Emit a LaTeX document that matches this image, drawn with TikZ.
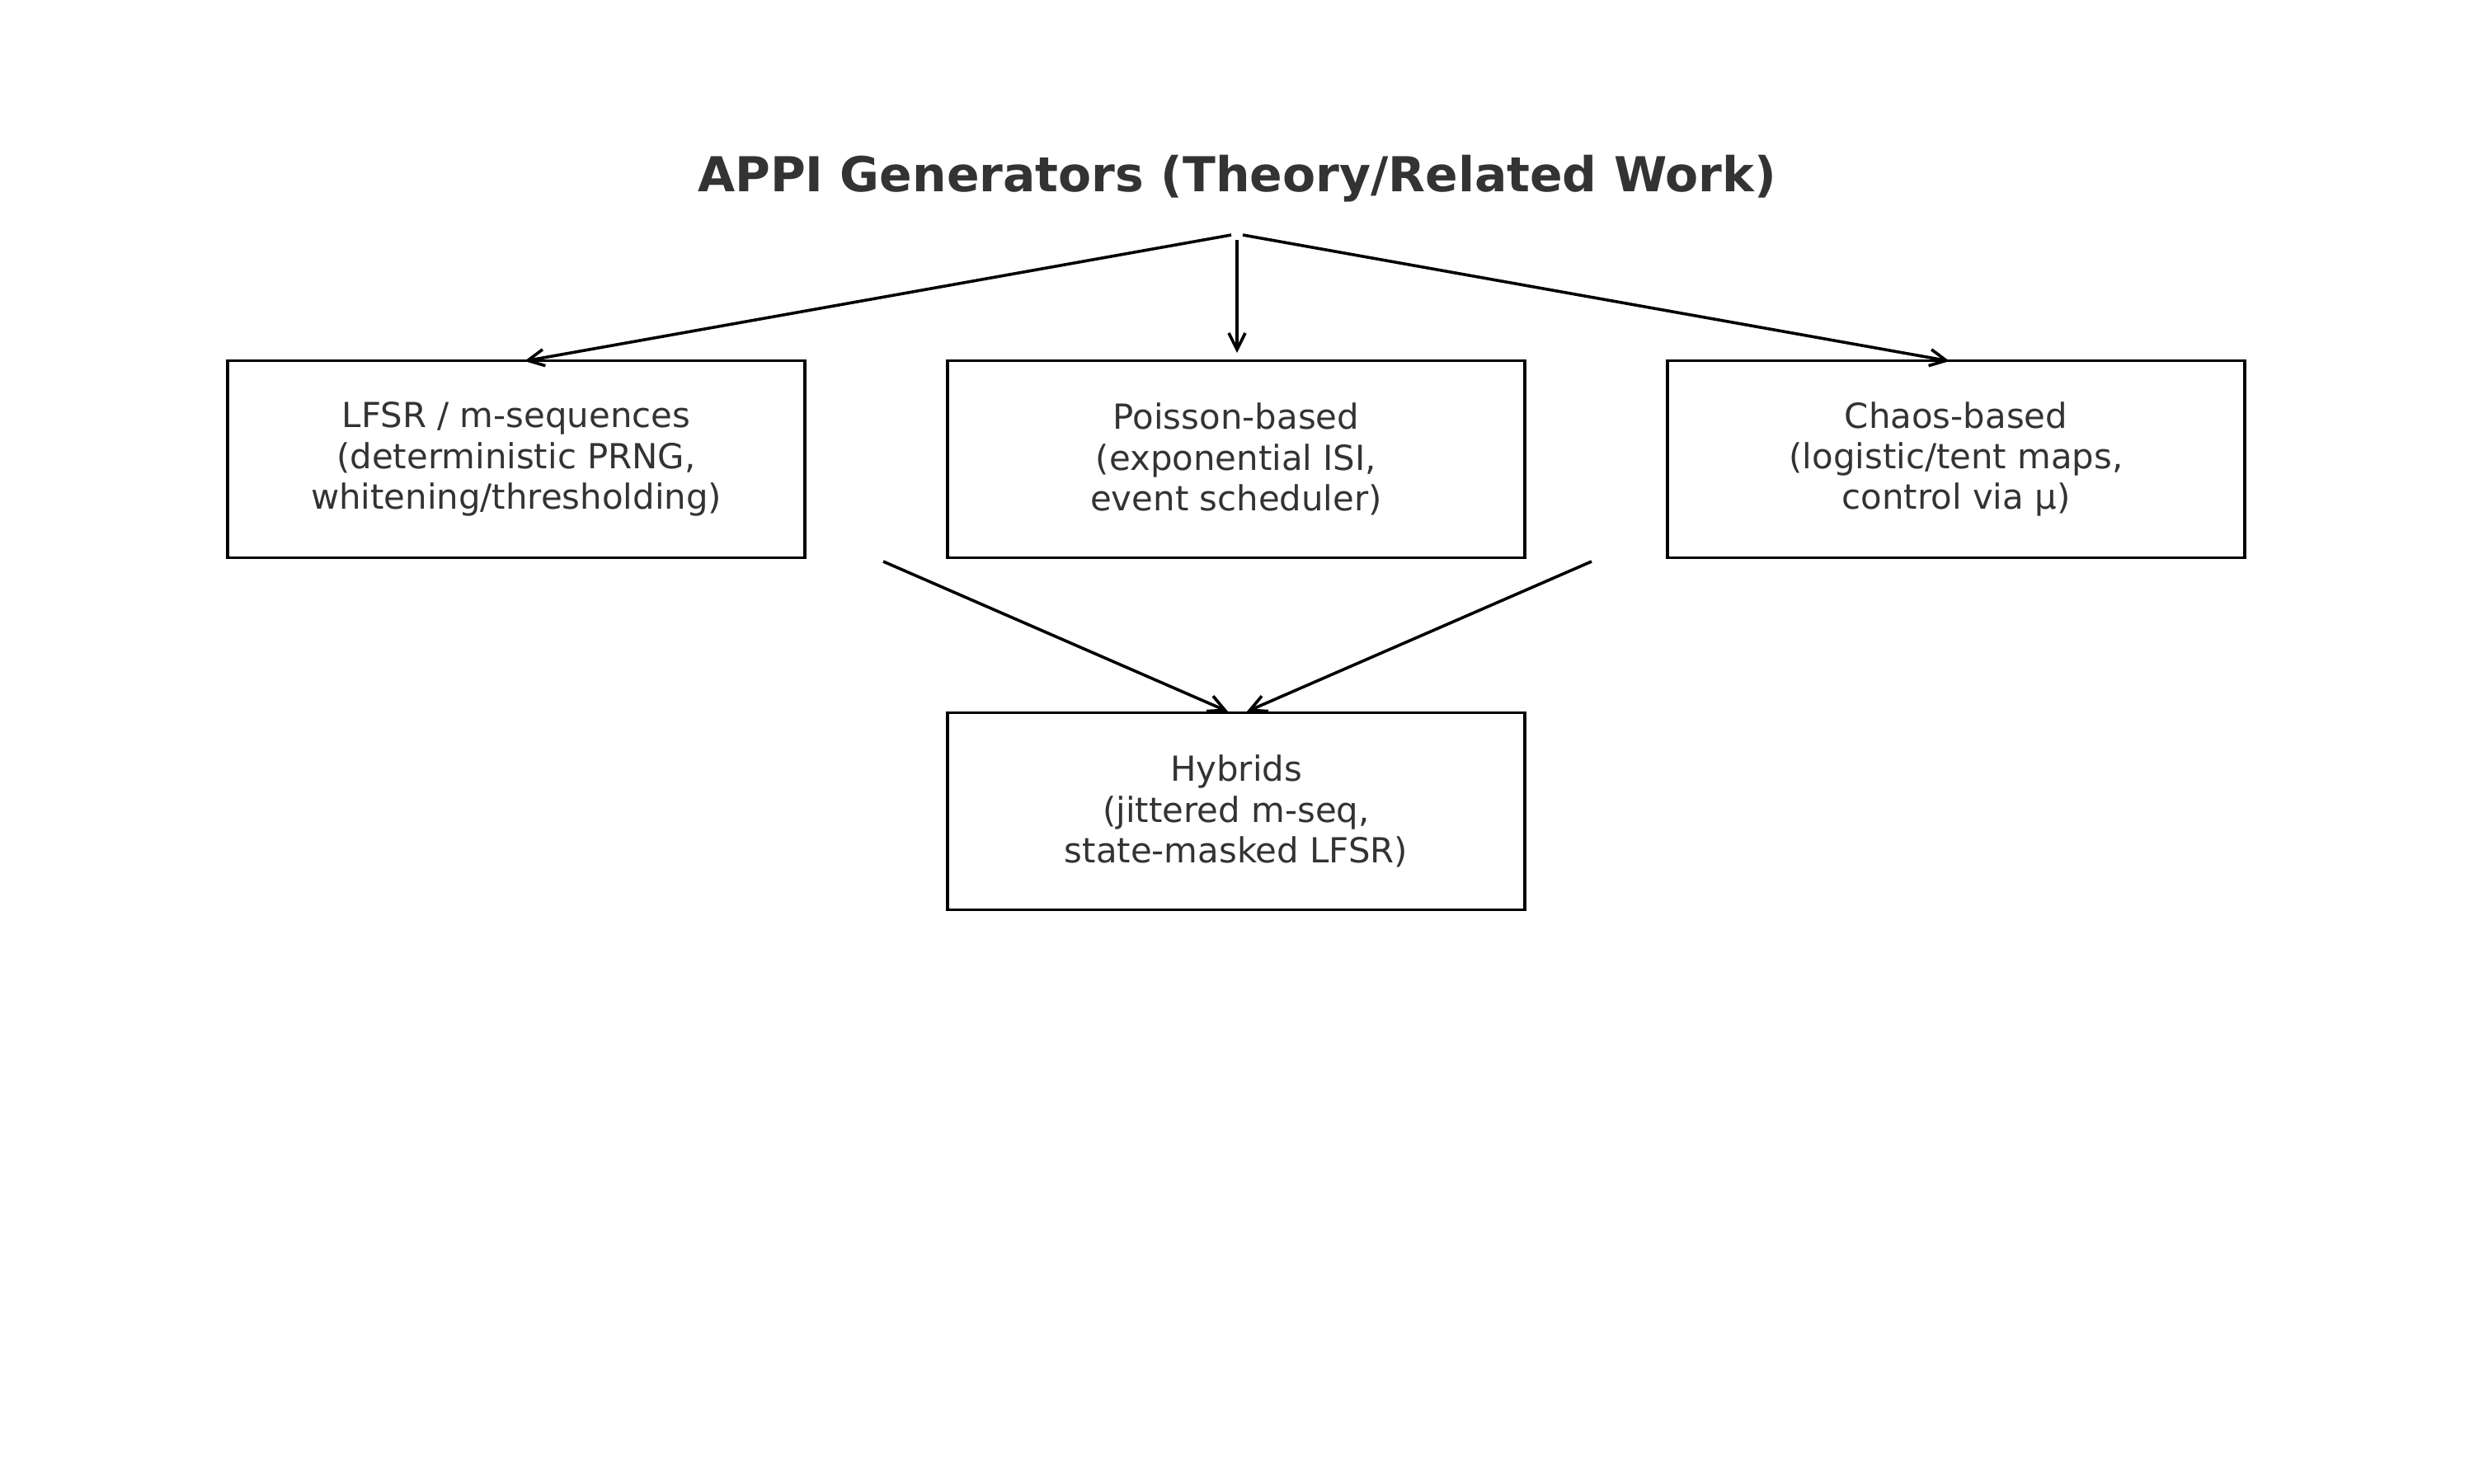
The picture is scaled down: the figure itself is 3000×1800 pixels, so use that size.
\documentclass[tikz,border=0pt]{standalone}
\usepackage{fontspec}
\setmainfont{DejaVu Sans}
\usetikzlibrary{arrows.meta}
\definecolor{txt}{HTML}{333333}
\begin{document}
\begin{tikzpicture}[x=0.01cm,y=-0.01cm,
  box/.style={draw=black, line width=0.038cm, minimum width=6.99cm, minimum height=2.39cm,
    align=center, text=txt, font=\fontsize{11.9}{14}\selectfont, inner sep=0pt},
  conn/.style={line width=0.036cm, -{Straight Barb[length=0.2cm,width=0.2cm]}}]
\path[use as bounding box] (0,0) rectangle (3000,1800);
\node[font=\bfseries\fontsize{16.6}{20}\selectfont, text=txt] (title) at (1500,217) {APPI Generators (Theory/Related Work)};
\node[box] (lfsr) at (626,557) {LFSR / m-sequences\\(deterministic PRNG,\\whitening/thresholding)};
\node[box] (poisson) at (1499,557) {Poisson-based\\(exponential ISI,\\event scheduler)};
\node[box] (chaos) at (2372,557) {Chaos-based\\(logistic/tent maps,\\control via μ)};
\node[box] (hyb) at (1499,984) {Hybrids\\(jittered m-seq,\\state-masked LFSR)};
\coordinate (s1) at (1493,285);
\coordinate (s2) at (1500,291);
\coordinate (s3) at (1507,285);
\coordinate (e1) at (636,438);
\coordinate (e2) at (1500,428);
\coordinate (e3) at (2364,438);
\coordinate (a1) at (1071,681);
\coordinate (a2) at (1930,681);
\coordinate (h1) at (1489,863);
\coordinate (h2) at (1512,863);
\draw[conn] (s1) -- (e1);
\draw[conn] (s2) -- (e2);
\draw[conn] (s3) -- (e3);
\draw[conn] (a1) -- (h1);
\draw[conn] (a2) -- (h2);
\end{tikzpicture}
\end{document}
